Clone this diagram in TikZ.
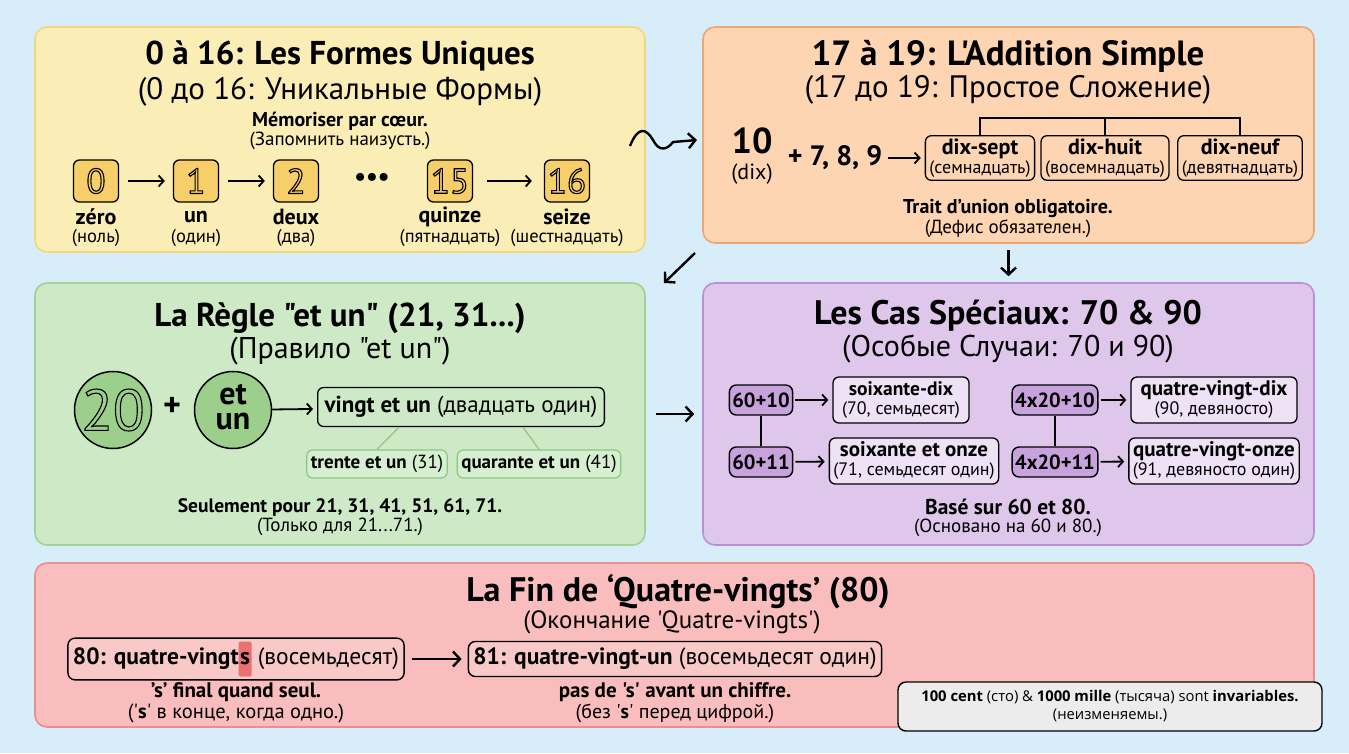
\documentclass[tikz,border=0pt]{standalone}
\usepackage{fontspec}
\setmainfont{PT Sans}[Ligatures = TeXOff]
\newfontfamily\notefont{Open Sans}
\usetikzlibrary{positioning}
\usetikzlibrary{arrows.meta}

\definecolor{bgblue}{HTML}{D8EDFA}
\definecolor{yelfill}{HTML}{FBEDB6}
\definecolor{yeldraw}{HTML}{F1D680}
\definecolor{orafill}{HTML}{FDD5B2}
\definecolor{oradraw}{HTML}{F0A674}
\definecolor{grefill}{HTML}{CDE9C6}
\definecolor{gredraw}{HTML}{A3D296}
\definecolor{purfill}{HTML}{DFC7EC}
\definecolor{purdraw}{HTML}{B890D3}
\definecolor{redfill}{HTML}{F8BDBC}
\definecolor{reddraw}{HTML}{EA8F8E}
\definecolor{numfill}{HTML}{F6CF6B}
\definecolor{circfill}{HTML}{9CCF8C}
\definecolor{glight}{HTML}{D6EFD0}
\definecolor{gline}{HTML}{8FC584}
\definecolor{purdark}{HTML}{C8A2DC}
\definecolor{purlight}{HTML}{EFE1F6}
\definecolor{redlight}{HTML}{F9C9C8}
\definecolor{hlred}{HTML}{EA7171}
\definecolor{notefill}{HTML}{ECECEC}

% outlined digits
\newcommand{\outl}[1]{\special{pdf:literal direct 1 Tr 1.1 w}#1\special{pdf:literal direct 0 Tr}}
\newcommand{\frw}[2][21]{{\fontsize{#1}{19}\selectfont\bfseries #2}}
\newcommand{\ruw}[2][18]{{\fontsize{#1}{19}\selectfont #2}}
\newcommand{\hls}[1]{\tikz[baseline = (hl.base)] \node (hl) [fill = hlred, rounded corners = 2pt, inner sep = 1.5pt] {#1};}

\begin{document}
\begin{tikzpicture}
	[
		x = 1pt, y = -1pt,
		panel/.style = {rectangle, rounded corners = 12pt, line width = 1.6pt, inner sep = 0pt},
		title/.style = {font = \fontsize{33}{36}\selectfont\bfseries},
		subtitle/.style = {font = \fontsize{30}{33}\selectfont},
		notefr/.style = {font = \fontsize{20}{22}\selectfont\bfseries},
		noteru/.style = {font = \fontsize{19}{21}\selectfont},
		numbox/.style = {rectangle, rounded corners = 6pt, minimum width = 45pt, minimum height = 42pt, inner sep = 1pt, fill = numfill, draw = black, line width = 1.3pt, font = \fontsize{35}{35}\selectfont},
		numword/.style = {font = \fontsize{22}{24}\selectfont\bfseries},
		numru/.style = {font = \fontsize{18.5}{20}\selectfont},
		wordbox/.style = {rectangle, rounded corners = 6pt, draw = black, line width = 1.3pt, align = center, inner xsep = 4pt, inner ysep = 3pt, font = \fontsize{18}{19}\selectfont},
		coin/.style = {circle, minimum size = 77pt, inner sep = 0pt, fill = circfill, draw = black, line width = 1.5pt},
		cointext/.style = {inner sep = 0pt, font = \fontsize{32}{32}\selectfont\bfseries},
		gbox/.style = {rectangle, rounded corners = 6pt, draw = gline, fill = glight, line width = 1.2pt, inner xsep = 4pt, minimum height = 28pt, font = \fontsize{19}{20}\selectfont},
		sumbox/.style = {rectangle, rounded corners = 7pt, fill = purdark, draw = black, line width = 1.4pt, minimum height = 30pt, inner xsep = 3pt, font = \fontsize{20.5}{22}\selectfont\bfseries},
		linebox/.style = {rectangle, rounded corners = 7pt, draw = black, line width = 1.4pt, minimum height = 35pt, inner xsep = 5pt, font = \fontsize{23.5}{25}\selectfont},
		arr/.style = {line width = 1.8pt, -{Straight Barb[length = 5pt, width = 11pt]}},
		bigarr/.style = {line width = 2.4pt, -{Straight Barb[length = 7pt, width = 15pt]}},
	]
	\useasboundingbox (0,0) rectangle (1349,753);
	\fill [bgblue] (0,0) rectangle (1349,753);

	% panels
	\node (p1) [panel, fill = yelfill, draw = yeldraw, minimum width = 610pt, minimum height = 225pt] at (340,139.5) {};
	\node (p2) [panel, fill = orafill, draw = oradraw, minimum width = 611pt, minimum height = 216pt] at (1008.5,135) {};
	\node (p3) [panel, fill = grefill, draw = gredraw, minimum width = 610pt, minimum height = 262pt] at (340,414) {};
	\node (p4) [panel, fill = purfill, draw = purdraw, minimum width = 611pt, minimum height = 262pt] at (1008.5,414) {};
	\node (p5) [panel, fill = redfill, draw = reddraw, minimum width = 1279pt, minimum height = 164pt] at (674.5,645) {};

	% 0 to 16
	\node (t1) [title] at (340,56) {0 à 16: Les Formes Uniques};
	\node (s1) [subtitle, font = \fontsize{31}{33}\selectfont] at (340,92) {(0 до 16: Уникальные Формы)};
	\node (m1) [notefr] at (340,121) {Mémoriser par cœur.};
	\node (m1ru) [noteru] at (340,141) {(Запомнить наизусть.)};
	\node (n0) [numbox] at (96,181) {\outl{0}};
	\node (n1) [numbox] at (196,181) {\outl{1}};
	\node (n2) [numbox] at (296,181) {\outl{2}};
	\node (ndots) [font = \fontsize{26}{26}\selectfont\bfseries] at (372,179) {\textbullet\textbullet\textbullet};
	\node (n15) [numbox] at (450,181) {\outl{15}};
	\node (n16) [numbox] at (567,181) {\outl{16}};
	\draw [arr, shorten <= 9pt, shorten >= 8pt] (n0) -- (n1);
	\draw [arr, shorten <= 9pt, shorten >= 8pt] (n1) -- (n2);
	\draw [arr, shorten <= 14pt, shorten >= 12pt] (n15) -- (n16);
	\node (w0) [numword] at (96,217) {zéro};
	\node (w1) [numword] at (196,217) {un};
	\node (w2) [numword] at (296,217) {deux};
	\node (w15) [numword] at (450,217) {quinze};
	\node (w16) [numword] at (567,217) {seize};
	\node (r0) [numru] at (96,238) {(ноль)};
	\node (r1) [numru] at (196,238) {(один)};
	\node (r2) [numru] at (296,238) {(два)};
	\node (r15) [numru] at (450,238) {(пятнадцать)};
	\node (r16) [numru] at (567,238) {(шестнадцать)};

	% 17 to 19
	\node (t2) [title, font = \fontsize{35}{36}\selectfont\bfseries] at (1008,56) {17 à 19: L'Addition Simple};
	\node (s2) [subtitle, font = \fontsize{31}{33}\selectfont] at (1008,90) {(17 до 19: Простое Сложение)};
	\node (ten) [font = \fontsize{36}{36}\selectfont\bfseries] at (752,141) {10};
	\node (tenru) [font = \fontsize{22}{24}\selectfont] at (752,174) {(dix)};
	\node (plus789) [font = \fontsize{28}{30}\selectfont\bfseries] at (835,158) {+ 7, 8, 9};
	\node (dsept) [wordbox] at (980,158) {\frw[22]{dix-sept}\\\ruw{(семнадцать)}};
	\node (dhuit) [wordbox] at (1105,158) {\frw[22]{dix-huit}\\\ruw{(восемнадцать)}};
	\node (dneuf) [wordbox] at (1240,158) {\frw[22]{dix-neuf}\\\ruw{(девятнадцать)}};
	\draw [arr, shorten <= 2pt, shorten >= 4pt] (plus789) -- (dsept);
	\coordinate (brtop) at (1105,118);
	\draw [line width = 1.2pt] (dsept.north) |- (brtop) -| (dneuf.north);
	\draw [line width = 1.2pt] (dhuit.north) -- (brtop);
	\node (m2) [notefr] at (1008,209) {Trait d’union obligatoire.};
	\node (m2ru) [noteru] at (1008,229) {(Дефис обязателен.)};

	% et un
	\node (t3) [title] at (340,318) {La Règle "et un" (21, 31...)};
	\node (s3) [subtitle] at (340,351) {(Правило "et un")};
	\node (c20) [coin, font = \fontsize{58}{58}\selectfont] at (113,410) {\outl{20}};
	\node (cplus) [font = \fontsize{34}{34}\selectfont\bfseries] at (172,407) {+};
	\node (cetun) [coin] at (233,410) {};
	\node (cet) [cointext] at (233,395) {et};
	\node (cun) [cointext] at (233,421) {un};
	\node (vingt) [wordbox, minimum height = 39pt, inner xsep = 7pt, font = \fontsize{23}{25}\selectfont] at (461,407) {\textbf{vingt et un} (двадцать один)};
	\draw [arr, shorten >= 4pt] (cetun) -- (vingt);
	\node (trente) [gbox] at (377,464) {\textbf{trente et un} (31)};
	\node (quarante) [gbox] at (539,464) {\textbf{quarante et un} (41)};
	\draw [gline, line width = 1.2pt] ([xshift = -62pt]vingt.south) -- (trente.north);
	\draw [gline, line width = 1.2pt] ([xshift = 62pt]vingt.south) -- (quarante.north);
	\node (m3) [notefr, font = \fontsize{19.5}{22}\selectfont\bfseries] at (340,507) {Seulement pour 21, 31, 41, 51, 61, 71.};
	\node (m3ru) [noteru] at (340,527) {(Только для 21...71.)};

	% 70 and 90
	\node (t4) [title, font = \fontsize{34}{36}\selectfont\bfseries] at (1008,316) {Les Cas Spéciaux: 70 \& 90};
	\node (s4) [subtitle] at (1008,349) {(Особые Случаи: 70 и 90)};
	\node (a6010) [sumbox] at (761,400) {60+10};
	\node (a6011) [sumbox] at (761,462) {60+11};
	\node (a8010) [sumbox] at (1055,400) {4x20+10};
	\node (a8011) [sumbox] at (1055,462) {4x20+11};
	\draw [line width = 1.4pt] (a6010) -- (a6011);
	\draw [line width = 1.4pt] (a8010) -- (a8011);
	\node (b70) [wordbox, fill = purlight, minimum width = 136pt, minimum height = 46pt] at (901,400) {\frw[19.5]{soixante-dix}\\\ruw{(70, семьдесят)}};
	\node (b71) [wordbox, fill = purlight, minimum width = 164pt, minimum height = 46pt] at (914,461) {\frw{soixante et onze}\\\ruw{(71, семьдесят один)}};
	\node (b90) [wordbox, fill = purlight, minimum width = 166pt, minimum height = 46pt] at (1214,400) {\frw{quatre-vingt-dix}\\\ruw{(90, девяносто)}};
	\node (b91) [wordbox, fill = purlight, minimum width = 166pt, minimum height = 46pt] at (1214,461) {\frw{quatre-vingt-onze}\\\ruw{(91, девяносто один)}};
	\draw [arr, shorten <= 2pt, shorten >= 4pt] (a6010) -- (b70);
	\draw [arr, shorten <= 2pt, shorten >= 4pt] (a6011) -- (b71);
	\draw [arr, shorten <= 2pt, shorten >= 4pt] (a8010) -- (b90);
	\draw [arr, shorten <= 2pt, shorten >= 4pt] (a8011) -- (b91);
	\node (m4) [notefr, font = \fontsize{21.5}{22}\selectfont\bfseries] at (1008,507) {Basé sur 60 et 80.};
	\node (m4ru) [noteru] at (1008,528) {(Основано на 60 и 80.)};

	% quatre-vingts
	\node (t5) [title, font = \fontsize{34}{36}\selectfont\bfseries] at (678,592) {La Fin de ‘Quatre-vingts’ (80)};
	\node (s5) [subtitle, font = \fontsize{25}{28}\selectfont] at (672,622) {(Окончание 'Quatre-vingts')};
	\node (box80) [linebox, fill = redlight] at (236,659) {\textbf{80: quatre-vingt}\hls{\textbf{s}} (восемьдесят)};
	\node (box81) [linebox, fill = redlight] at (675,659) {\textbf{81: quatre-vingt-un} (восемьдесят один)};
	\draw [bigarr, shorten <= 7pt, shorten >= 6pt] (box80) -- (box81);
	\node (m5a) [notefr, font = \fontsize{21}{22}\selectfont\bfseries] at (236,692) {’s’ final quand seul.};
	\node (m5aru) [noteru, font = \fontsize{20.5}{22}\selectfont] at (236,713) {('\textbf{s}' в конце, когда одно.)};
	\node (m5b) [notefr, font = \fontsize{21}{22}\selectfont\bfseries] at (675,692) {pas de 's' avant un chiffre.};
	\node (m5bru) [noteru, font = \fontsize{20}{22}\selectfont] at (675,713) {(без '\textbf{s}' перед цифрой.)};
	\node (inv) [rectangle, rounded corners = 8pt, fill = notefill, draw = black, line width = 1.4pt, minimum width = 424pt, minimum height = 49pt, align = center, font = \notefont\fontsize{14.8}{18}\selectfont] at (1110,706.5) {\textbf{100 cent} (сто) \& \textbf{1000 mille} (тысяча) sont \textbf{invariables.}\\(неизменяемы.)};

	% links between panels
	\coordinate (sqa) at (630,146);
	\coordinate (sqb) at (697,140);
	\draw [bigarr] (sqa) .. controls (638,126) and (646,128) .. (653,140) .. controls (659,152) and (667,150) .. (673,142) -- (sqb);
	\coordinate (dga) at (695,253);
	\coordinate (dgb) at (664,283);
	\draw [bigarr] (dga) -- (dgb);
	\draw [bigarr, shorten <= 6pt, shorten >= 6pt] (p2.south) -- (p4.north);
	\draw [bigarr, shorten <= 10pt, shorten >= 8pt] (p3.east) -- (p4.west);
\end{tikzpicture}
\end{document}
